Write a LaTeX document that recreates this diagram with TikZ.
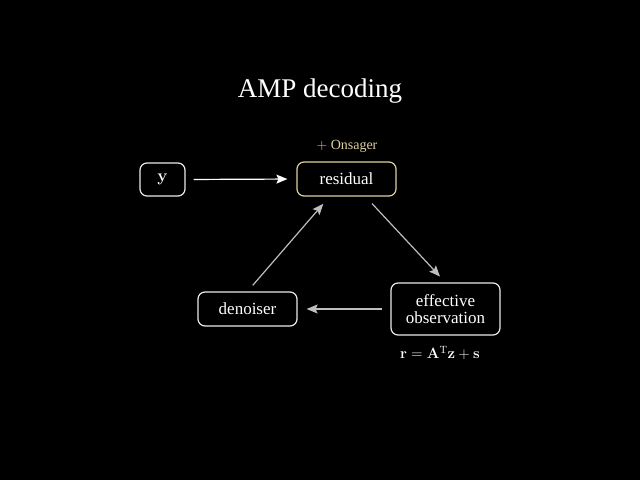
\RequirePackage{fix-cm}
\documentclass[tikz,border=0pt]{standalone}
\usepackage[no-math]{fontspec}
\setmainfont{Liberation Serif}
\usetikzlibrary{arrows.meta}
\definecolor{tan}{RGB}{222,208,160}
\definecolor{arrgray}{RGB}{190,190,190}
\definecolor{boxline}{RGB}{235,235,235}
\begin{document}
\begin{tikzpicture}[x=1pt,y=-1pt,
  box/.style={draw=boxline, line width=1.2pt, rounded corners=7pt, text=white,
    font=\fontsize{17}{18}\selectfont, inner sep=0pt, align=center},
  arr/.style={draw=arrgray, line width=1.2pt, -{Stealth[length=11pt,width=9pt,inset=2pt]}},
  warr/.style={arr, draw=white}]
\fill[black] (0,0) rectangle (640,480);
\useasboundingbox (0,0) rectangle (640,480);
\node[text=white, font=\fontsize{27}{30}\selectfont] (title) at (320,91) {AMP decoding};
\node[box, minimum width=45pt, minimum height=33pt] (y) at (162.5,179.5) {$\mathbf{y}$};
\node[box, draw=tan, minimum width=99pt, minimum height=34pt] (res) at (346.5,179) {residual};
\node[box, minimum width=99pt, minimum height=34pt] (den) at (247.5,309) {denoiser};
\node[box, minimum width=109pt, minimum height=52pt, font=\fontsize{17}{17}\selectfont] (eff) at (445.5,309) {effective\\observation};
\node[text=tan, font=\fontsize{14}{15}\selectfont] (ons) at (347,146) {$+$ Onsager};
\node[text=white, font=\fontsize{15}{16}\selectfont] (form) at (440,353) {$\mathbf{r}=\mathbf{A}^{\mathrm{T}}\mathbf{z}+\mathbf{s}$};
\draw[warr, shorten <=8pt, shorten >=9pt] (y.east) -- (res.west);
\draw[arr, shorten <=9.5pt, shorten >=8pt] ([xshift=19pt]res.south) -- (eff.north);
\draw[arr, shorten <=8pt, shorten >=9pt] (eff.west) -- (den.east);
\draw[arr, shorten <=8pt, shorten >=9.5pt] (den.north) -- ([xshift=-17pt]res.south);
\end{tikzpicture}
\end{document}
